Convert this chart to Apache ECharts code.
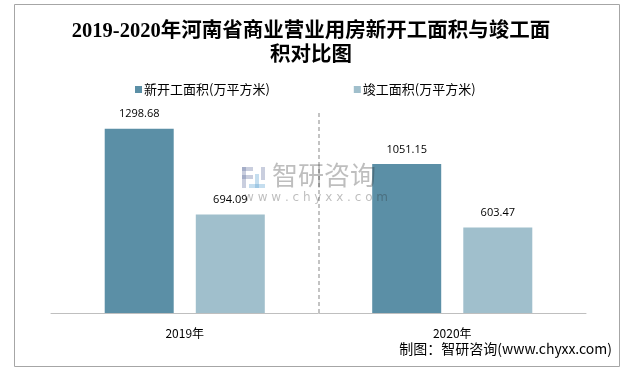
<!DOCTYPE html>
<html><head><meta charset="utf-8">
<script src="https://cdn.jsdelivr.net/npm/echarts@6/dist/echarts.min.js"></script>
<style>html,body{margin:0;padding:0;background:#fff}#c{width:622px;height:368px}</style>
</head><body><div id="c"></div>
<script>
const categories = ['2019年', '2020年'];
const seriesNames = ['新开工面积(万平方米)', '竣工面积(万平方米)'];
const newStart = [1298.68, 1051.15];
const completed = [694.09, 603.47];
const separatorAt = [1];
const titleText = '2019-2020年河南省商业营业用房新开工面积与竣工面\n积对比图';
const sourceText = '制图：智研咨询(www.chyxx.com)';

const chart = echarts.init(document.getElementById('c'), null, {renderer: 'canvas'});
const labelStyle = {show: true, position: 'top', distance: 9, color: '#000', fontSize: 11, fontFamily: 'Open Sans, Noto Sans CJK SC, sans-serif', formatter: p => p.value.toFixed(2)};
const wmA = 'rgba(100,115,160,0.35)', wmB = 'rgba(90,160,210,0.35)', wmT = 'rgba(40,40,40,0.3)';
chart.setOption({
  animation: false,
  title: {
    text: titleText, left: 'center', top: 15,
    textStyle: {fontSize: 20.5, fontWeight: 'bold', lineHeight: 24, color: '#000', fontFamily: 'Liberation Serif, Noto Sans CJK SC, serif'}
  },
  legend: {
    top: 78, left: 130, itemGap: 84, itemWidth: 7, itemHeight: 7, icon: 'rect',
    textStyle: {fontSize: 13, color: '#000', padding: [0, 0, 0, -3], fontFamily: 'Noto Sans CJK SC, sans-serif'},
    data: seriesNames
  },
  grid: {left: 51, right: 36, top: 113, bottom: 55},
  xAxis: [{
    type: 'category', data: categories,
    axisLine: {show: true, lineStyle: {color: '#bfbfbf', width: 1}},
    axisTick: {show: false},
    axisLabel: {margin: 14, fontSize: 12, color: '#000', fontFamily: 'Noto Sans CJK SC, sans-serif'},
    splitLine: {show: false}
  }, {
    type: 'value', min: 0, max: categories.length, show: false, splitLine: {show: false}
  }],
  yAxis: {type: 'value', min: 0, max: 1410, show: false, splitLine: {show: false}},
  series: [
    {name: seriesNames[0], type: 'bar', data: newStart, barWidth: 69, barGap: '32%', itemStyle: {color: '#5b8fa6'}, label: labelStyle},
    {name: seriesNames[1], type: 'bar', data: completed, barWidth: 69, itemStyle: {color: '#a0bfcc'}, label: labelStyle},
    {type: 'line', xAxisIndex: 1, data: [], silent: true,
     markLine: {silent: true, symbol: 'none', label: {show: false},
       lineStyle: {color: '#b0b0b0', type: [4, 3], width: 1.5},
       data: separatorAt.map(v => ({xAxis: v}))}}
  ],
  graphic: {
    elements: [
      {type: 'rect', left: 12, top: 2, shape: {width: 605, height: 362}, style: {fill: 'none', stroke: '#a6a6a6', lineWidth: 1}, silent: true},
      {type: 'text', right: 10, top: 342, style: {text: sourceText, fontSize: 14, fill: '#000', fontFamily: 'Noto Sans CJK SC, sans-serif'}},
      {type: 'group', left: 242, top: 162, silent: true, zlevel: 2, z: 100, children: [
        {type: 'rect', zlevel: 2, z: 100, shape: {x: 0, y: 2, width: 11, height: 4}, style: {fill: wmA}},
        {type: 'rect', zlevel: 2, z: 100, shape: {x: 0, y: 10, width: 11, height: 4}, style: {fill: wmA}},
        {type: 'rect', zlevel: 2, z: 100, shape: {x: 0, y: 2, width: 4, height: 21}, style: {fill: wmA}},
        {type: 'rect', zlevel: 2, z: 100, shape: {x: 13, y: 9, width: 4, height: 14}, style: {fill: wmB}},
        {type: 'rect', zlevel: 2, z: 100, shape: {x: 7, y: 19, width: 16, height: 4}, style: {fill: wmB}},
        {type: 'rect', zlevel: 2, z: 100, shape: {x: 19, y: 2, width: 4, height: 13}, style: {fill: wmA}},
        {type: 'text', zlevel: 2, z: 100, x: 30, y: -3, style: {text: '智研咨询', fontSize: 26, fill: wmT, fontFamily: 'Noto Sans CJK SC, sans-serif'}},
        {type: 'text', zlevel: 2, z: 100, x: 2, y: 27, style: {text: 'w w w . c h y x x . c o m', fontSize: 12, fill: wmT, fontFamily: 'DejaVu Sans, sans-serif'}}
      ]}
    ]
  }
});
</script></body></html>
